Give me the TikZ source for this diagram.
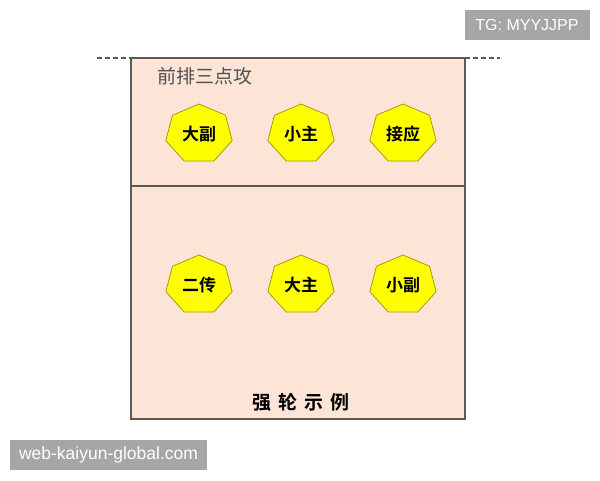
\documentclass[tikz,border=0pt]{standalone}
\usepackage{fontspec}
\newfontfamily\cjk{Noto Sans CJK SC}
\newfontfamily\cjkb{Noto Sans CJK SC Bold}
\setsansfont{Liberation Sans}
\definecolor{courtbg}{HTML}{FCE4D6}
\definecolor{courtline}{HTML}{5F5A58}
\definecolor{heptfill}{HTML}{FFFF00}
\definecolor{heptline}{HTML}{A89A10}
\definecolor{wmgray}{HTML}{A6A6A6}
\definecolor{labgray}{HTML}{505050}
\tikzset{
  hept/.style={fill=heptfill, draw=heptline, line width=0.8pt, line join=miter},
  heptlabel/.style={font=\cjkb\fontsize{17}{17}\selectfont, text=black, inner sep=0pt},
  wmbox/.style={fill=wmgray, text=white, inner sep=0pt, anchor=center},
  courtedge/.style={draw=courtline, line width=1.3pt},
  dashline/.style={draw=courtline, line width=1.1pt, dash pattern=on 5pt off 3pt}
}
\begin{document}
\begin{tikzpicture}[x=1pt,y=-1pt]
\useasboundingbox (0,0) rectangle (600,480);
% court
\coordinate (tl) at (131,58);
\coordinate (br) at (465,419);
\coordinate (ml) at (131,186);
\coordinate (mr) at (465,186);
\coordinate (dl) at (97,58);
\coordinate (dr) at (500,58);
\coordinate (tr) at (465,58);
\fill[courtbg] (tl) rectangle (br);
\draw[courtedge] (tl) rectangle (br);
\draw[courtedge, line width=1.1pt] (ml) -- (mr);
\draw[dashline] (dl) -- (tl);
\draw[dashline] (tr) -- (dr);
% title
\node[font=\cjk\fontsize{19}{19}\selectfont, text=labgray, anchor=west, inner sep=0pt] (title) at (157,76) {前排三点攻};
% players
\foreach \n/\x/\y/\t in {a/199/134/大副, b/301/134/小主, c/403/134/接应, d/199/285/二传, e/301/285/大主, f/403/285/小副}{
  \begin{scope}[shift={(\x,\y)}]
    \draw[hept] (90:34pt and 30pt) \foreach \k in {1,...,6}{ -- (90+\k*360/7:34pt and 30pt)} -- cycle;
  \end{scope}
  \node[heptlabel] (\n) at (\x,\y) {\t};
}
% caption
\node[font=\cjkb\fontsize{19}{19}\selectfont, text=black, inner sep=0pt] (cap) at (301,402) {强\hspace{7pt}轮\hspace{7pt}示\hspace{7pt}例};
% watermarks
\node[wmbox, minimum width=125pt, minimum height=30pt, font=\sffamily\fontsize{16}{16}\selectfont] (tg) at (527,25) {TG: MYYJJPP};
\node[wmbox, minimum width=197pt, minimum height=30pt, font=\sffamily\fontsize{17.5}{17.5}\selectfont] (web) at (108.5,455) {web-kaiyun-global.com};
\end{tikzpicture}
\end{document}
